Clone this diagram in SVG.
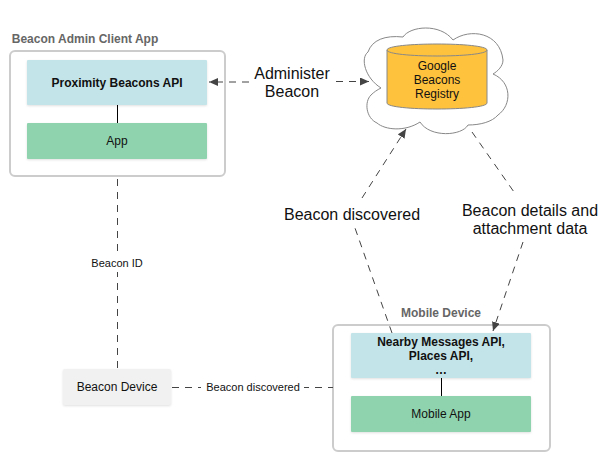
<svg xmlns="http://www.w3.org/2000/svg" width="612" height="468" viewBox="0 0 612 468">
<style>
text{font-family:"Liberation Sans",Arial,sans-serif;text-anchor:middle;fill:#111}
.s{font-size:12px}.b{font-size:12px;font-weight:700}.l{font-size:16px}.m{font-size:11px}
.t{font-size:12px;font-weight:700;fill:#666}
.f{fill:#fff;stroke:#ccc;stroke-width:2}
.c{fill:#c3e4e8}.g{fill:#8fd3ae}
.c,.g,.v{filter:drop-shadow(0 1px 1px rgba(0,0,0,.12))}
.v{fill:#f1f1f1}
.d{fill:none;stroke:#444;stroke-width:1;stroke-dasharray:7 6}
.k{fill:none;stroke:#000;stroke-width:1}
</style>
<defs><marker id="a" markerWidth="10" markerHeight="10" refX="9" refY="4" orient="auto" markerUnits="userSpaceOnUse"><path d="M0 0L9 4L0 8Z" fill="#444"/></marker></defs>
<text class="t" x="85" y="43">Beacon Admin Client App</text>
<g id="admin"><rect class="f" x="10" y="51" width="215" height="125" rx="5"/></g>
<g id="api"><rect class="c" x="27" y="60" width="180" height="45" rx="1"/><text class="b" x="117" y="87">Proximity Beacons API</text></g>
<g id="app"><rect class="g" x="27" y="123" width="180" height="36" rx="1"/><text class="s" x="117" y="145">App</text></g>
<g id="cloud"><path d="M381 88C365 78 360 58 368 52C372 40 385 35 403 37C410 26 440 23 453 40C470 28 500 32 503 60C503 66 498 71 493 74C512 82 512 105 498 115C492 122 480 125 468 125C462 136 430 138 420 122C405 132 385 130 377 123C366 118 364 102 371 95C374 92 377 90 381 88Z" fill="#fff" stroke="#888"/></g>
<g id="registry"><path d="M387 50C387 42 487 42 487 50V103C487 111 387 111 387 103Z" fill="#ffc23c" stroke="#888"/><path d="M387 50C387 58 487 58 487 50" fill="none" stroke="#888"/>
<text class="s" x="437" y="70">Google</text><text class="s" x="437" y="84">Beacons</text><text class="s" x="437" y="98">Registry</text></g>
<g id="device"><rect class="v" x="63" y="369" width="108" height="36" rx="2"/><text class="s" x="117" y="391">Beacon Device</text></g>
<text class="t" x="441" y="317">Mobile Device</text>
<g id="mobile"><rect class="f" x="333" y="325" width="217" height="126" rx="5"/></g>
<g id="nearby"><rect class="c" x="351" y="333" width="180" height="45" rx="1"/><text class="b" x="441" y="346">Nearby Messages API,</text><text class="b" x="441" y="360">Places API,</text><text class="b" x="441" y="374">…</text></g>
<g id="mobileapp"><rect class="g" x="351" y="396" width="180" height="36" rx="1"/><text class="s" x="441" y="418">Mobile App</text></g>
<g id="conn">
<path class="k" d="M117.5 105V123"/>
<path class="k" d="M441.5 378V396"/>
<path class="d" d="M117.5 179V369"/>
<path class="d" d="M172 387.5H333"/>
<path class="d" d="M249 82H209" marker-end="url(#a)"/>
<path class="d" d="M336 81.500H369" marker-end="url(#a)"/>
<path class="d" d="M392 333L355 228"/>
<path class="d" d="M362 198L406 129" marker-end="url(#a)"/>
<path class="d" d="M472 132L514 192"/>
<path class="d" d="M523 242L493 331" marker-end="url(#a)"/>
</g>
<g id="labels">
<rect x="88" y="254" width="58" height="18" fill="#fff"/><text class="m" x="117" y="267">Beacon ID</text>
<rect x="201" y="379" width="103" height="16" fill="#fff"/><text class="m" x="253" y="391">Beacon discovered</text>
<text class="l" x="292" y="79">Administer</text><text class="l" x="292" y="97">Beacon</text>
<text class="l" x="352" y="220">Beacon discovered</text>
<text class="l" x="530" y="216">Beacon details and</text><text class="l" x="530" y="234">attachment data</text>
</g>
</svg>
